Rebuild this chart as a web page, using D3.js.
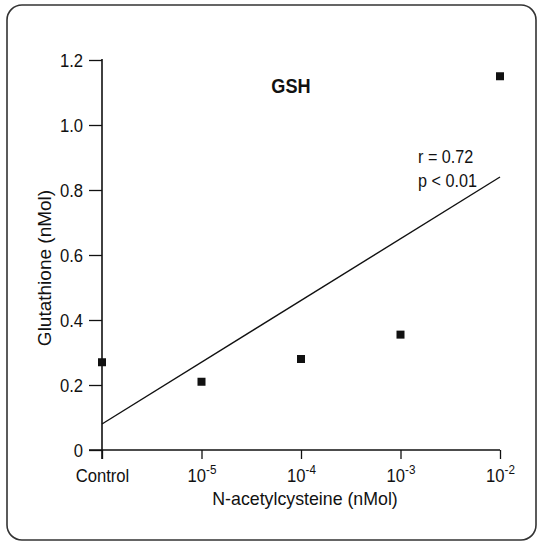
<!DOCTYPE html>
<html><head><meta charset="utf-8">
<script src="https://cdn.jsdelivr.net/npm/d3@7/dist/d3.min.js"></script>
<style>
html,body{margin:0;padding:0;background:#fff;}
svg text{font-family:"Liberation Sans Narrow","Liberation Sans",Arial,sans-serif;fill:#111;}
</style></head><body>
<svg id="c" width="541" height="545"></svg>
<script>
const categories = ["Control", "-5", "-4", "-3", "-2"];
const glutathione = [0.27, 0.21, 0.28, 0.355, 1.15];
const fitLine = [0.08, 0.84]; // fitted values at Control and 10^-2
const yTicks = [0, 0.2, 0.4, 0.6, 0.8, 1.0, 1.2];

const SX = 0.9; // horizontal condensing of the type
const svg = d3.select("#c");
svg.append("rect").attr("x",7).attr("y",5).attr("width",529).attr("height",535)
  .attr("rx",15).attr("fill","none").attr("stroke","#333").attr("stroke-width",1.6);

const x = d3.scalePoint().domain(categories).range([102, 500]);
const y = d3.scaleLinear().domain([0, 1.2]).range([450, 60]);

function label(px, py, txt, size, anchor, opts = {}) {
  const gg = svg.append("g").attr("transform",
    `translate(${px},${py}) ${opts.rot ? "rotate(" + opts.rot + ")" : ""} scale(${opts.sx || SX},1)`);
  const t = gg.append("text").attr("text-anchor", anchor).attr("font-size", size).text(txt);
  if (opts.bold) t.attr("font-weight", "bold");
  return t;
}

const g = svg.append("g");
// y axis
const ya = g.append("g").attr("transform","translate(102,0)")
  .call(d3.axisLeft(y).tickValues(yTicks).tickSize(13)
    .tickFormat(d => d === 0 ? "0" : d3.format(".1f")(d)));
ya.select(".domain").remove();
ya.selectAll("line").attr("stroke","#111").attr("stroke-width",1.3);
ya.selectAll("text").attr("font-size",18.5).attr("x", -19 / SX).attr("dy","0.36em")
  .attr("transform", `scale(${SX},1)`);
g.append("line").attr("x1",102).attr("x2",102).attr("y1",59).attr("y2",459)
  .attr("stroke","#111").attr("stroke-width",1.6);

// x axis
const xa = g.append("g").attr("transform","translate(0,450)")
  .call(d3.axisBottom(x).tickSize(9).tickFormat(""));
xa.select(".domain").remove();
xa.selectAll("line").attr("stroke","#111").attr("stroke-width",1.3);
g.append("line").attr("x1",89).attr("x2",500).attr("y1",450).attr("y2",450)
  .attr("stroke","#111").attr("stroke-width",1.6);
xa.selectAll(".tick").each(function(d){
  const t = d3.select(this).append("text").attr("y",32).attr("text-anchor","middle")
    .attr("font-size",18.5).attr("transform", `scale(${SX},1)`);
  if (d === "Control") { t.text("Control"); }
  else {
    t.append("tspan").text("10");
    t.append("tspan").attr("dy",-8).attr("font-size",13).text(d);
  }
});

// titles
label(305, 505, "N-acetylcysteine (nMol)", 18.5, "middle", {sx: 0.96});
label(51, 268, "Glutathione (nMol)", 19, "middle", {rot: -90, sx: 1.0});
label(291, 93, "GSH", 19.5, "middle", {bold: true, sx: 0.93});
label(418, 163, "r = 0.72", 18, "start");
label(418, 187, "p < 0.01", 18, "start");

// regression line
g.append("line")
  .attr("x1",x(categories[0])).attr("y1",y(fitLine[0]))
  .attr("x2",x(categories[4])).attr("y2",y(fitLine[1]))
  .attr("stroke","#111").attr("stroke-width",1.4);

// points
g.selectAll("rect.pt").data(categories).enter().append("rect").attr("class","pt")
  .attr("x",d => x(d)-4).attr("y",(d,i) => y(glutathione[i])-4)
  .attr("width",8).attr("height",8).attr("fill","#111");
</script></body></html>
